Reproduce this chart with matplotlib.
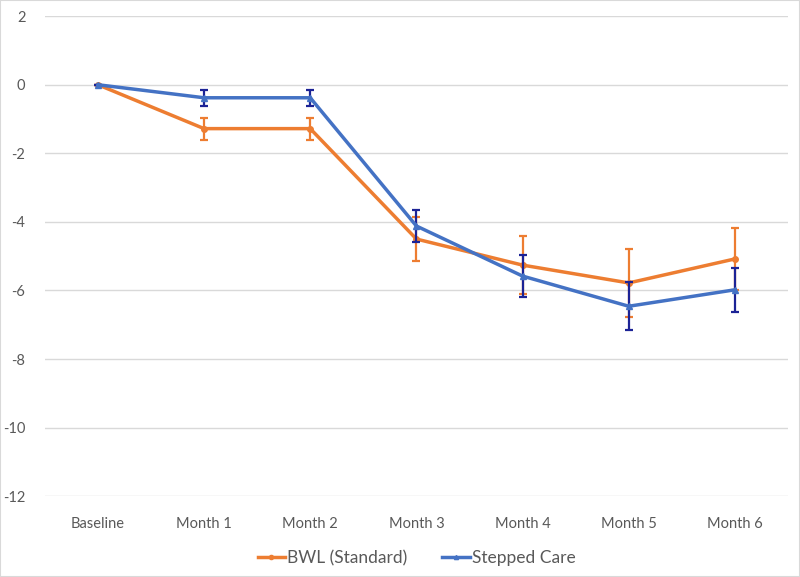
import numpy as np
from matplotlib import pyplot as plt
from matplotlib.lines import Line2D

# data
months = ["Baseline", "Month 1", "Month 2", "Month 3", "Month 4", "Month 5", "Month 6"]
bwl = [0, -1.28, -1.28, -4.5, -5.26, -5.78, -5.08]
bwl_err = [0, 0.32, 0.32, 0.65, 0.85, 1.0, 0.9]
stepped = [0, -0.38, -0.38, -4.12, -5.58, -6.46, -5.98]
stepped_err = [0, 0.24, 0.24, 0.47, 0.62, 0.7, 0.65]

plt.rcParams['font.family'] = ['Lato', 'DejaVu Sans']
plt.rcParams['axes.unicode_minus'] = False

fig = plt.figure(figsize=(8, 5.77), dpi=100)
ax = fig.add_axes([0.056, 0.140, 0.929, 0.832])

x = np.arange(len(months))
orange = "#ED7D31"
blue = "#4472C4"
navy = "#1C2396"

ax.errorbar(x, bwl, yerr=bwl_err, color=orange, lw=2.5, marker="o", ms=4,
            ecolor=orange, elinewidth=1.6, capsize=3, capthick=1.6, zorder=3)
ax.errorbar(x, stepped, yerr=stepped_err, color=blue, lw=2.5, marker="^", ms=4,
            ecolor=navy, elinewidth=1.6, capsize=3, capthick=1.6, zorder=4)

ax.set_ylim(-12, 2)
ax.set_yticks(np.arange(-12, 3, 2))
ax.set_xlim(-0.5, len(months) - 0.5)
ax.set_xticks(x)
ax.set_xticklabels(months)
ax.grid(axis="y", color="#D9D9D9", lw=1)
ax.set_axisbelow(True)
for s in ax.spines.values():
    s.set_visible(False)
ax.tick_params(length=0, colors="#595959", labelsize=10.5)
ax.tick_params(axis="x", pad=15)
ax.tick_params(axis="y", pad=14)

handles = [Line2D([], [], color=orange, lw=2.5, marker="o", ms=3),
           Line2D([], [], color=blue, lw=2.5, marker="^", ms=3)]
ax.legend(handles, ["BWL (Standard)", "Stepped Care"], loc="upper center",
          bbox_to_anchor=(0.5, -0.08), ncol=2, frameon=False,
          fontsize=12.5, labelcolor="#595959", handlelength=1.6, handletextpad=0.1,
          columnspacing=2)

fig.patches.append(plt.Rectangle((0, 0), 1, 1, transform=fig.transFigure,
                                 fill=False, edgecolor="#D9D9D9", lw=1.5))
fig.savefig("out.png", dpi=100)
